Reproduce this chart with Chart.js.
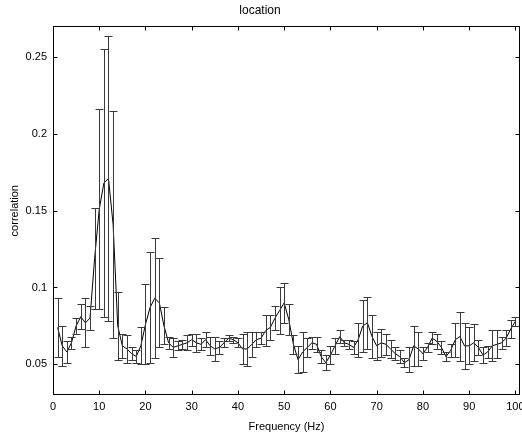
<!DOCTYPE html>
<html>
<head>
<meta charset="utf-8">
<script src="https://cdn.jsdelivr.net/npm/chart.js@4"></script>
<style>
  html, body { margin: 0; padding: 0; background: #fff; }
  #wrap { width: 522px; height: 434px; position: relative; }
</style>
</head>
<body>
<div id="wrap"><canvas id="c" width="522" height="434"></canvas></div>
<script>
const freqs = [1,2,3,4,5,6,7,8,9,10,11,12,13,14,15,16,17,18,19,20,
  21,22,23,24,25,26,27,28,29,30,31,32,33,34,35,36,37,38,39,40,
  41,42,43,44,45,46,47,48,49,50,51,52,53,54,55,56,57,58,59,60,
  61,62,63,64,65,66,67,68,69,70,71,72,73,74,75,76,77,78,79,80,
  81,82,83,84,85,86,87,88,89,90,91,92,93,94,95,96,97,98,99,100];

const meanCorr = [0.074,0.062,0.058,0.064,0.075,0.081,0.077,0.080,0.119,0.151,
  0.168,0.171,0.141,0.075,0.062,0.060,0.057,0.055,0.062,0.076,
  0.087,0.093,0.090,0.075,0.064,0.061,0.062,0.063,0.064,0.066,
  0.064,0.063,0.066,0.062,0.060,0.061,0.064,0.067,0.066,0.064,
  0.060,0.060,0.063,0.066,0.067,0.072,0.074,0.080,0.085,0.090,
  0.079,0.063,0.053,0.058,0.061,0.064,0.063,0.055,0.051,0.056,
  0.062,0.068,0.064,0.063,0.061,0.066,0.075,0.077,0.068,0.062,
  0.064,0.063,0.060,0.057,0.055,0.051,0.053,0.062,0.060,0.057,
  0.061,0.067,0.065,0.061,0.055,0.059,0.066,0.068,0.062,0.062,
  0.064,0.061,0.056,0.058,0.062,0.063,0.064,0.067,0.073,0.078];

const errCorr = [0.019,0.013,0.007,0.004,0.005,0.008,0.016,0.008,0.033,0.065,
  0.087,0.093,0.074,0.022,0.008,0.009,0.004,0.004,0.012,0.026,
  0.036,0.039,0.029,0.012,0.004,0.006,0.003,0.003,0.005,0.004,
  0.006,0.004,0.005,0.006,0.008,0.004,0.003,0.002,0.002,0.003,
  0.010,0.011,0.008,0.005,0.004,0.010,0.008,0.008,0.015,0.013,
  0.010,0.006,0.009,0.013,0.006,0.004,0.005,0.004,0.005,0.006,
  0.005,0.004,0.002,0.003,0.004,0.011,0.017,0.017,0.014,0.009,
  0.009,0.007,0.006,0.004,0.004,0.003,0.008,0.013,0.011,0.004,
  0.003,0.004,0.005,0.004,0.003,0.004,0.011,0.016,0.015,0.012,
  0.012,0.005,0.005,0.004,0.010,0.009,0.004,0.005,0.006,0.003];

const xTicks = [0,10,20,30,40,50,60,70,80,90,100];
const yTicks = [0.05,0.1,0.15,0.2,0.25];
const yTickLabels = ['0.05','0.1','0.15','0.2','0.25'];

const FONT = "'Liberation Sans Narrow', 'Liberation Sans', Arial, sans-serif";

const errorBarPlugin = {
  id: 'errorBars',
  afterDatasetsDraw(chart) {
    const ctx = chart.ctx, xs = chart.scales.x, ys = chart.scales.y;
    ctx.save();
    ctx.strokeStyle = '#3a3a3a';
    ctx.lineWidth = 1;
    const cap = 4;
    for (let i = 0; i < freqs.length; i++) {
      const x = Math.round(xs.getPixelForValue(freqs[i])) + 0.5;
      const yT = Math.round(ys.getPixelForValue(meanCorr[i] + errCorr[i])) + 0.5;
      const yB = Math.round(ys.getPixelForValue(meanCorr[i] - errCorr[i])) + 0.5;
      ctx.beginPath();
      ctx.moveTo(x, yT); ctx.lineTo(x, yB);
      ctx.moveTo(x - cap, yT); ctx.lineTo(x + cap, yT);
      ctx.moveTo(x - cap, yB); ctx.lineTo(x + cap, yB);
      ctx.stroke();
    }
    ctx.restore();
  }
};

const boxPlugin = {
  id: 'matlabBox',
  afterDraw(chart) {
    const ctx = chart.ctx, a = chart.chartArea, xs = chart.scales.x, ys = chart.scales.y;
    ctx.save();
    ctx.strokeStyle = '#000';
    ctx.lineWidth = 1;
    const L = Math.round(a.left) + 0.5, R = Math.round(a.right) - 0.5;
    const T = Math.round(a.top) + 0.5, B = Math.round(a.bottom) - 0.5;
    ctx.strokeRect(L, T, R - L, B - T);
    const tl = 4;
    ctx.beginPath();
    xTicks.forEach(v => {
      const x = Math.round(xs.getPixelForValue(v)) + 0.5;
      ctx.moveTo(x, B); ctx.lineTo(x, B - tl);
      ctx.moveTo(x, T); ctx.lineTo(x, T + tl);
    });
    yTicks.forEach(v => {
      const y = Math.round(ys.getPixelForValue(v)) + 0.5;
      ctx.moveTo(L, y); ctx.lineTo(L + tl, y);
      ctx.moveTo(R, y); ctx.lineTo(R - tl, y);
    });
    ctx.stroke();
    ctx.restore();
  }
};

new Chart(document.getElementById('c'), {
  type: 'line',
  data: {
    datasets: [{
      label: 'correlation',
      data: freqs.map((f, i) => ({ x: f, y: meanCorr[i] })),
      borderColor: '#000',
      borderWidth: 1,
      pointRadius: 0,
      tension: 0,
      fill: false
    }]
  },
  options: {
    responsive: false,
    animation: false,
    devicePixelRatio: 1,
    layout: { padding: { left: 0, right: 2, top: 0, bottom: 0 } },
    plugins: {
      legend: { display: false },
      tooltip: { enabled: false },
      title: {
        display: true,
        text: 'location',
        color: '#000',
        font: { family: FONT, size: 12, weight: 'normal' },
        padding: { top: 3, bottom: 9 }
      }
    },
    scales: {
      x: {
        type: 'linear',
        min: 0,
        max: 101,
        afterBuildTicks(scale) { scale.ticks = xTicks.map(v => ({ value: v })); },
        afterFit(scale) { scale.height = 39; scale.paddingLeft = 0; scale.paddingRight = 0; },
        grid: { display: false, drawTicks: false },
        border: { display: false },
        ticks: {
          color: '#000',
          padding: 5,
          maxRotation: 0,
          autoSkip: false,
          font: { family: FONT, size: 11 }
        },
        title: {
          display: true,
          text: 'Frequency (Hz)',
          color: '#000',
          font: { family: FONT, size: 11 },
          padding: { top: 1, bottom: 0 }
        }
      },
      y: {
        type: 'linear',
        min: 0.03,
        max: 0.27,
        afterBuildTicks(scale) { scale.ticks = yTicks.map(v => ({ value: v })); },
        afterFit(scale) { scale.width = 53; },
        grid: { display: false, drawTicks: false },
        border: { display: false },
        ticks: {
          color: '#000',
          padding: 6,
          autoSkip: false,
          font: { family: FONT, size: 11 },
          callback(value) {
            const k = yTicks.findIndex(t => Math.abs(t - value) < 1e-9);
            return k >= 0 ? yTickLabels[k] : '';
          }
        },
        title: {
          display: true,
          text: 'correlation',
          color: '#000',
          font: { family: FONT, size: 11 },
          padding: { top: 8, bottom: 0 }
        }
      }
    }
  },
  plugins: [errorBarPlugin, boxPlugin]
});
</script>
</body>
</html>
